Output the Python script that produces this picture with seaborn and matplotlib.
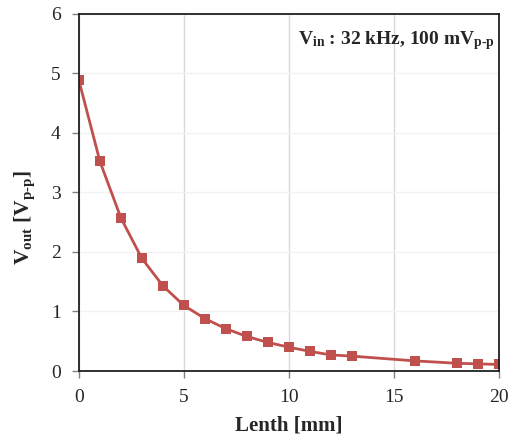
import matplotlib
matplotlib.use("Agg")
import matplotlib.pyplot as plt
import seaborn as sns
import pandas as pd

length_mm = [0, 1, 2, 3, 4, 5, 6, 7, 8, 9, 10, 11, 12, 13, 16, 18, 19, 20]
vout_vpp = [4.88, 3.52, 2.57, 1.89, 1.43, 1.10, 0.88, 0.71, 0.58, 0.48, 0.40,
            0.33, 0.27, 0.25, 0.17, 0.13, 0.12, 0.11]
x_ticks = [0, 5, 10, 15, 20]
y_ticks = [0, 1, 2, 3, 4, 5, 6]

sns.set_style("white")
plt.rcParams["font.family"] = ["Liberation Serif", "DejaVu Serif"]
plt.rcParams["mathtext.fontset"] = "custom"
plt.rcParams["mathtext.rm"] = "Liberation Serif"
plt.rcParams["mathtext.it"] = "Liberation Serif"
plt.rcParams["mathtext.bf"] = "Liberation Serif:bold"

df = pd.DataFrame({"x": length_mm, "y": vout_vpp})

fig = plt.figure(figsize=(5.09, 4.37), dpi=100)
ax = fig.add_axes([0.155, 0.151, 0.825, 0.818])

sns.lineplot(data=df, x="x", y="y", ax=ax, color="#C0504D", linewidth=2,
             marker="s", markersize=7, markeredgewidth=0)

ax.set_xlim(0, 20)
ax.set_ylim(0, 6)
ax.set_xticks(x_ticks)
ax.set_yticks(y_ticks)
ax.grid(axis="x", color="#D9D9D9", linewidth=1)
ax.grid(axis="y", color="#F2F2F2", linewidth=1)
ax.set_axisbelow(True)
for s in ax.spines.values():
    s.set_color("#202020")
    s.set_linewidth(1.3)
ax.tick_params(axis="both", direction="out", length=5, width=1, color="#808080",
               labelsize=14, bottom=True, left=True)
ax.tick_params(axis="x", pad=8)
ax.tick_params(axis="y", pad=8)

ax.set_xlabel("Lenth [mm]", fontsize=15, fontweight="bold", labelpad=7)
ax.set_ylabel(r"$\mathbf{V_{out}}$ [$\mathbf{V_{p\text{-}p}}$]", fontsize=15.5,
              fontweight="bold")
ax.yaxis.set_label_coords(-0.10, 0.43)

ax.text(0.99, 0.925, r"$\mathbf{V_{in}}$ : 32 kHz, 100 m$\mathbf{V_{p\text{-}p}}$",
        transform=ax.transAxes, ha="right", va="center", fontsize=14,
        fontweight="bold")

fig.savefig("out.png", dpi=100)
